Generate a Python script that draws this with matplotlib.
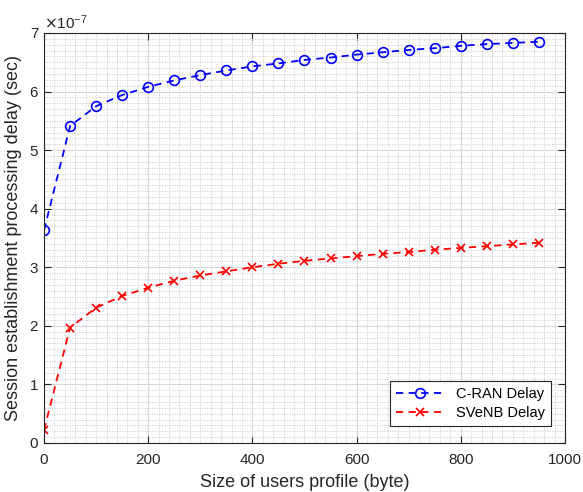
import numpy as np
import matplotlib
matplotlib.use('Agg')
import matplotlib.pyplot as plt
from matplotlib.ticker import MultipleLocator, ScalarFormatter

plt.rcParams['font.family'] = ['Liberation Sans', 'DejaVu Sans']

# profile size (byte)
sizes = [0, 50, 100, 150, 200, 250, 300, 350, 400, 450,
         500, 550, 600, 650, 700, 750, 800, 850, 900, 950]
# delay values in units of 1e-7 s
cran_delay = [3.63, 5.41, 5.75, 5.94, 6.08, 6.19, 6.28, 6.36, 6.43, 6.48,
              6.54, 6.58, 6.63, 6.67, 6.71, 6.74, 6.78, 6.81, 6.83, 6.85]
svenb_delay = [0.22, 1.97, 2.31, 2.51, 2.65, 2.77, 2.86, 2.93, 3.00, 3.06,
               3.11, 3.15, 3.19, 3.23, 3.26, 3.30, 3.33, 3.36, 3.39, 3.42]

cran = np.array(cran_delay) * 1e-7
svenb = np.array(svenb_delay) * 1e-7

fig = plt.figure(figsize=(5.83, 4.92), dpi=100)
ax = fig.add_axes([0.0755, 0.0996, 0.8935, 0.8334])

ax.plot(sizes, cran, '--', color='#0000ff', lw=1.3, marker='o', ms=7,
        mfc='none', mew=1.2, label='C-RAN Delay', dashes=(4, 3))
ax.plot(sizes, svenb, '--', color='#ff0000', lw=1.3, marker='x', ms=6,
        mew=1.2, label='SVeNB Delay', dashes=(4, 3))

ax.set_xlim(0, 1000)
ax.set_ylim(0, 7e-7)
ax.xaxis.set_major_locator(MultipleLocator(200))
ax.xaxis.set_minor_locator(MultipleLocator(20))
ax.yaxis.set_major_locator(MultipleLocator(1e-7))
ax.yaxis.set_minor_locator(MultipleLocator(1e-8))

fmt = ScalarFormatter(useMathText=True)
fmt.set_powerlimits((0, 0))
ax.yaxis.set_major_formatter(fmt)
ax.yaxis.get_offset_text().set_fontsize(11)
ax.yaxis.get_offset_text().set_color('#262626')

ax.grid(True, which='major', color='#d9d9d9', lw=0.8, ls='-')
ax.grid(True, which='minor', color='#cccccc', lw=0.6, ls=(0, (1.5, 1.5)))
ax.set_axisbelow(True)

ax.tick_params(which='major', direction='in', top=True, right=True,
               length=5, width=0.8, labelsize=11, colors='#262626')
ax.tick_params(axis='x', which='major', pad=7)
ax.tick_params(which='minor', length=0)
for s in ax.spines.values():
    s.set_color('#262626')
    s.set_linewidth(0.8)

ax.set_xlabel('Size of users profile (byte)', fontsize=13, color='#262626',
              labelpad=5)
ax.set_ylabel('Session establishment processing delay (sec)', fontsize=13,
              color='#262626', labelpad=5)

leg = ax.legend(loc='lower right', fontsize=10.5, fancybox=False,
                framealpha=1, edgecolor='#262626', handlelength=3.3,
                borderpad=0.4, labelspacing=0.35, borderaxespad=0,
                bbox_to_anchor=(0.973, 0.041))
leg.get_frame().set_linewidth(0.8)

fig.savefig('out.png', dpi=100)
